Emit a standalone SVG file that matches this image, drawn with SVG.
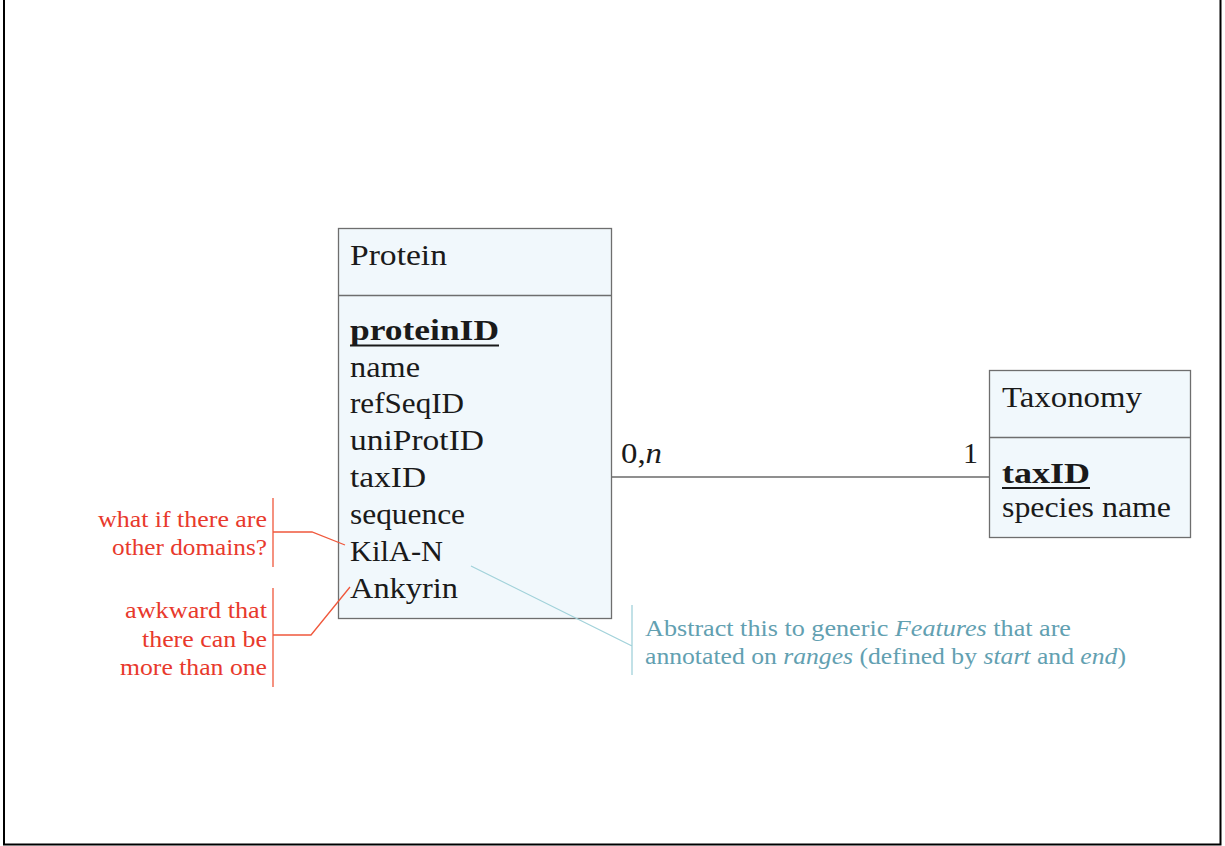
<svg xmlns="http://www.w3.org/2000/svg" width="1225" height="846" viewBox="0 0 1225 846">
  <style>
    .entity { fill: #f1f8fc; stroke: #6e6e6e; stroke-width: 1.3; }
    .sep { stroke: #6e6e6e; stroke-width: 1.3; }
    .t { font-family: "Liberation Serif", "Times New Roman", serif; font-size: 30px; fill: #1a1a1a; }
    .key { font-weight: bold; }
    .ul { stroke: #1a1a1a; stroke-width: 2; }
    .note { font-family: "Liberation Serif", "Times New Roman", serif; font-size: 23px; }
    .red { fill: #e8392c; }
    .redline { stroke: #f0583c; stroke-width: 1.3; fill: none; }
    .teal { fill: #62a0b1; }
    .tealline { stroke: #a2d2da; stroke-width: 1.3; fill: none; }
    .conn { stroke: #6a6a6a; stroke-width: 1.3; fill: none; }
  </style>

  <!-- page frame (left, bottom, right edges) -->
  <path d="M4 0 V844.5 H1220.5 V0" fill="none" stroke="#000" stroke-width="2"/>

  <!-- relationship connectors -->
  <g id="connectors">
    <line class="conn" x1="612" y1="477" x2="989" y2="477"/>
    <text class="t" x="621" y="463" textLength="41" lengthAdjust="spacingAndGlyphs">0,<tspan font-style="italic">n</tspan></text>
    <text class="t" x="963" y="463">1</text>
  </g>

  <!-- Protein entity -->
  <g id="protein">
    <rect class="entity" x="338.5" y="228.5" width="273" height="390"/>
    <line class="sep" x1="338.5" y1="295.5" x2="611.5" y2="295.5"/>
    <text class="t" x="350" y="265" textLength="97" lengthAdjust="spacingAndGlyphs">Protein</text>
    <text class="t key" x="350" y="340" textLength="149" lengthAdjust="spacingAndGlyphs">proteinID</text>
    <line class="ul" x1="350" y1="345.5" x2="499" y2="345.5"/>
    <text class="t" x="350" y="377" textLength="70" lengthAdjust="spacingAndGlyphs">name</text>
    <text class="t" x="350" y="413" textLength="114" lengthAdjust="spacingAndGlyphs">refSeqID</text>
    <text class="t" x="350" y="450" textLength="134" lengthAdjust="spacingAndGlyphs">uniProtID</text>
    <text class="t" x="350" y="487" textLength="76" lengthAdjust="spacingAndGlyphs">taxID</text>
    <text class="t" x="350" y="524" textLength="115" lengthAdjust="spacingAndGlyphs">sequence</text>
    <text class="t" x="350" y="561" textLength="93" lengthAdjust="spacingAndGlyphs">KilA-N</text>
    <text class="t" x="350" y="598" textLength="108" lengthAdjust="spacingAndGlyphs">Ankyrin</text>
  </g>

  <!-- Taxonomy entity -->
  <g id="taxonomy">
    <rect class="entity" x="989.5" y="370.5" width="201" height="167"/>
    <line class="sep" x1="989.5" y1="437.5" x2="1190.5" y2="437.5"/>
    <text class="t" x="1002" y="407" textLength="140" lengthAdjust="spacingAndGlyphs">Taxonomy</text>
    <text class="t key" x="1002" y="483" textLength="88" lengthAdjust="spacingAndGlyphs">taxID</text>
    <line class="ul" x1="1002" y1="488" x2="1090" y2="488"/>
    <text class="t" x="1002" y="517" textLength="169" lengthAdjust="spacingAndGlyphs">species name</text>
  </g>

  <!-- remark on KilA-N -->
  <g id="note-domains">
    <path class="redline" d="M273 498 V567 M273 532 H312 L345 545"/>
    <text class="note red" x="98" y="527" textLength="169" lengthAdjust="spacingAndGlyphs">what if there are</text>
    <text class="note red" x="112" y="555" textLength="155" lengthAdjust="spacingAndGlyphs">other domains?</text>
  </g>

  <!-- remark on Ankyrin -->
  <g id="note-multiple">
    <path class="redline" d="M273 588 V687 M273 635 H311 L350 587"/>
    <text class="note red" x="125" y="618" textLength="142" lengthAdjust="spacingAndGlyphs">awkward that</text>
    <text class="note red" x="142" y="647" textLength="125" lengthAdjust="spacingAndGlyphs">there can be</text>
    <text class="note red" x="120" y="675" textLength="147" lengthAdjust="spacingAndGlyphs">more than one</text>
  </g>

  <!-- generalisation remark -->
  <g id="note-features">
    <path class="tealline" d="M471 566 L632 646 M632 605 V675"/>
    <text class="note teal" x="645" y="636" textLength="426" lengthAdjust="spacingAndGlyphs">Abstract this to generic <tspan font-style="italic">Features</tspan> that are</text>
    <text class="note teal" x="645" y="664" textLength="481" lengthAdjust="spacingAndGlyphs">annotated on <tspan font-style="italic">ranges</tspan> (defined by <tspan font-style="italic">start</tspan> and <tspan font-style="italic">end</tspan>)</text>
  </g>
</svg>
